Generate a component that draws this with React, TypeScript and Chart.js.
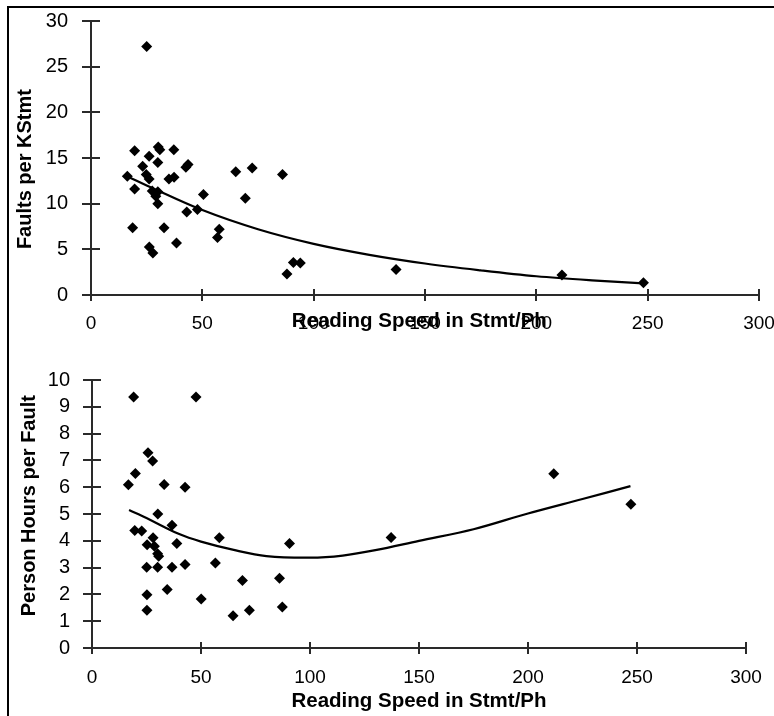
import React, { useEffect, useRef } from "react";
import { Chart, registerables } from "chart.js";

Chart.register(...registerables);

// ---- Top panel: Faults per KStmt vs reading speed ----
const topSpeed = [
  25.0, 19.6, 26.1, 30.2, 30.9, 37.2, 30.0, 23.2, 42.6, 43.6,
  16.3, 24.8, 26.1, 35.0, 37.3, 65.0, 72.4, 86.0, 19.6, 27.5,
  30.0, 29.1, 50.5, 69.3, 30.0, 43.0, 47.8, 18.7, 32.8, 57.6,
  56.8, 38.4, 26.2, 27.8, 90.9, 94.0, 88.0, 137.0, 211.5, 248.1,
];
const topFaults = [
  27.2, 15.8, 15.2, 16.2, 15.9, 15.9, 14.5, 14.1, 14.0, 14.3,
  13.0, 13.2, 12.7, 12.7, 12.9, 13.5, 13.9, 13.2, 11.6, 11.4,
  11.3, 10.8, 11.0, 10.6, 10.0, 9.1, 9.35, 7.35, 7.35, 7.2,
  6.3, 5.7, 5.25, 4.6, 3.55, 3.5, 2.3, 2.8, 2.2, 1.35,
];
const topTrendSpeed = [16, 25, 50, 75, 100, 125, 150, 175, 200, 225, 248];
const topTrendFaults = [13.0, 12.0, 9.3, 7.2, 5.6, 4.4, 3.45, 2.7, 2.05, 1.6, 1.28];

// ---- Bottom panel: Person Hours per Fault vs reading speed ----
const bottomSpeed = [
  19.1, 47.7, 25.7, 27.8, 19.9, 16.7, 33.1, 42.7, 30.2, 19.6,
  22.8, 36.7, 28.0, 58.4, 90.6, 38.9, 25.3, 28.6, 30.1, 30.6,
  25.1, 30.1, 36.7, 42.7, 56.6, 69.0, 86.0, 34.5, 25.2, 50.1,
  25.2, 72.2, 87.3, 64.7, 137.2, 211.8, 247.2,
];
const bottomHours = [
  9.37, 9.37, 7.29, 6.98, 6.51, 6.09, 6.1, 6.0, 5.0, 4.38,
  4.37, 4.58, 4.11, 4.11, 3.9, 3.9, 3.85, 3.8, 3.52, 3.42,
  3.01, 3.01, 3.01, 3.12, 3.17, 2.52, 2.6, 2.18, 1.99, 1.83,
  1.41, 1.41, 1.53, 1.2, 4.12, 6.5, 5.36,
];
const bottomTrendSpeed = [17, 25, 40, 50, 65, 80, 100, 115, 130, 150, 175, 200, 225, 247];
const bottomTrendHours = [5.15, 4.85, 4.25, 3.97, 3.66, 3.43, 3.37, 3.45, 3.65, 4.0, 4.43, 5.02, 5.56, 6.04];

// ---- Axis labels / ranges ----
const topXTitle = "Reading Speed in Stmt/Ph  ";
const bottomXTitle = "Reading Speed in Stmt/Ph";
const topYTitle = "Faults per KStmt    ";
const bottomYTitle = "   Person Hours per Fault";
const xRange = [0, 300, 50];
const topYRange = [0, 30, 5];
const bottomYRange = [0, 10, 1];

const FONT = "'Liberation Sans', Arial, Helvetica, sans-serif";

const crossAxes = {
  id: "crossAxes",
  beforeDatasetsDraw(chart: any, _args: any, opts: any) {
    const { ctx } = chart;
    const xs = chart.scales.x;
    const ys = chart.scales.y;
    const ax = Math.round(xs.getPixelForValue(xs.min));
    const ay = Math.round(ys.getPixelForValue(ys.min));
    ctx.save();
    ctx.strokeStyle = opts.color || "#333";
    ctx.lineWidth = opts.width || 2;
    ctx.beginPath();
    ctx.moveTo(ax, ys.getPixelForValue(ys.max));
    ctx.lineTo(ax, ay);
    ctx.moveTo(ax, ay);
    ctx.lineTo(xs.getPixelForValue(xs.max), ay);
    ys.ticks.forEach((t: any) => {
      const p = Math.round(ys.getPixelForValue(t.value));
      ctx.moveTo(ax - opts.yOut, p);
      ctx.lineTo(ax + opts.yIn, p);
    });
    xs.ticks.forEach((t: any) => {
      const p = Math.round(xs.getPixelForValue(t.value));
      ctx.moveTo(p, ay - opts.xIn);
      ctx.lineTo(p, ay + opts.xOut);
    });
    ctx.stroke();
    ctx.restore();
  },
};

type PanelOpts = {
  xs: number[];
  ys: number[];
  tx: number[];
  ty: number[];
  yRange: number[];
  yTitle: string;
  xTitle: string;
  pad: { left: number; top: number; right: number; bottom: number };
  yScaleWidth: number;
  xScaleHeight: number;
  yTickPad: number;
  xTickPad: number;
  yTitlePad: number;
  xTitlePad: number;
};

function makeConfig(p: PanelOpts): any {
  const zeroPad = (s: any) => {
    s.paddingLeft = 0;
    s.paddingRight = 0;
    s.paddingTop = 0;
    s.paddingBottom = 0;
  };
  return {
    type: "scatter",
    data: {
      datasets: [
        {
          data: p.tx.map((x, i) => ({ x, y: p.ty[i] })),
          showLine: true,
          borderColor: "#000",
          borderWidth: 2.2,
          pointRadius: 0,
          tension: 0.35,
          fill: false,
        },
        {
          data: p.xs.map((x, i) => ({ x, y: p.ys[i] })),
          showLine: false,
          pointStyle: "rectRot",
          pointRadius: 5.5,
          backgroundColor: "#000",
          borderColor: "#000",
          borderWidth: 0,
        },
      ],
    },
    options: {
      responsive: false,
      animation: false,
      devicePixelRatio: 1,
      layout: { padding: p.pad },
      plugins: {
        legend: { display: false },
        tooltip: { enabled: false },
        crossAxes: { color: "#2a2a2a", width: 2, yOut: 9, yIn: 9, xIn: 6, xOut: 6 },
      },
      scales: {
        x: {
          type: "linear",
          min: xRange[0],
          max: xRange[1],
          grid: { display: false, drawTicks: false, tickLength: 0 },
          border: { display: false },
          ticks: {
            stepSize: xRange[2],
            autoSkip: false,
            padding: p.xTickPad,
            color: "#000",
            font: { family: FONT, size: 19 },
            maxRotation: 0,
          },
          title: {
            display: true,
            text: p.xTitle,
            color: "#000",
            font: { family: FONT, size: 20.5, weight: "bold" },
            padding: { top: 0, bottom: p.xTitlePad },
          },
          afterFit: (s: any) => {
            s.height = p.xScaleHeight;
            zeroPad(s);
          },
        },
        y: {
          type: "linear",
          min: p.yRange[0],
          max: p.yRange[1],
          grid: { display: false, drawTicks: false, tickLength: 0 },
          border: { display: false },
          ticks: {
            stepSize: p.yRange[2],
            autoSkip: false,
            padding: p.yTickPad,
            color: "#000",
            font: { family: FONT, size: 20 },
          },
          title: {
            display: true,
            text: p.yTitle,
            color: "#000",
            font: { family: FONT, size: 20, weight: "bold" },
            padding: { top: p.yTitlePad, bottom: 0 },
          },
          afterFit: (s: any) => {
            s.width = p.yScaleWidth;
            zeroPad(s);
          },
        },
      },
    },
    plugins: [crossAxes],
  };
}

export default function App() {
  const topRef = useRef<HTMLCanvasElement | null>(null);
  const bottomRef = useRef<HTMLCanvasElement | null>(null);

  useEffect(() => {
    const charts: Chart[] = [];
    if (topRef.current) {
      charts.push(
        new Chart(
          topRef.current,
          makeConfig({
            xs: topSpeed,
            ys: topFaults,
            tx: topTrendSpeed,
            ty: topTrendFaults,
            yRange: topYRange,
            yTitle: topYTitle,
            xTitle: topXTitle,
            pad: { left: 0, top: 21, right: 15, bottom: 0 },
            yScaleWidth: 91,
            xScaleHeight: 45,
            yTickPad: 23,
            xTickPad: 17,
            yTitlePad: 13,
            xTitlePad: 6,
          })
        )
      );
    }
    if (bottomRef.current) {
      charts.push(
        new Chart(
          bottomRef.current,
          makeConfig({
            xs: bottomSpeed,
            ys: bottomHours,
            tx: bottomTrendSpeed,
            ty: bottomTrendHours,
            yRange: bottomYRange,
            yTitle: bottomYTitle,
            xTitle: bottomXTitle,
            pad: { left: 0, top: 40, right: 28, bottom: 0 },
            yScaleWidth: 92,
            xScaleHeight: 68,
            yTickPad: 22,
            xTickPad: 18,
            yTitlePad: 17,
            xTitlePad: 2,
          })
        )
      );
    }
    return () => charts.forEach((c) => c.destroy());
  }, []);

  return (
    <div style={{ position: "absolute", left: 0, top: 0, width: 774, height: 716, overflow: "hidden", background: "#fff" }}>
      <div
        style={{
          position: "absolute",
          left: 7,
          top: 6,
          width: 767,
          height: 710,
          boxSizing: "border-box",
          borderLeft: "2px solid #000",
          borderTop: "2px solid #000",
        }}
      />
      <canvas
        ref={topRef}
        width={774}
        height={340}
        style={{ position: "absolute", left: 0, top: 0, width: 774, height: 340 }}
      />
      <canvas
        ref={bottomRef}
        width={774}
        height={376}
        style={{ position: "absolute", left: 0, top: 340, width: 774, height: 376 }}
      />
    </div>
  );
}
